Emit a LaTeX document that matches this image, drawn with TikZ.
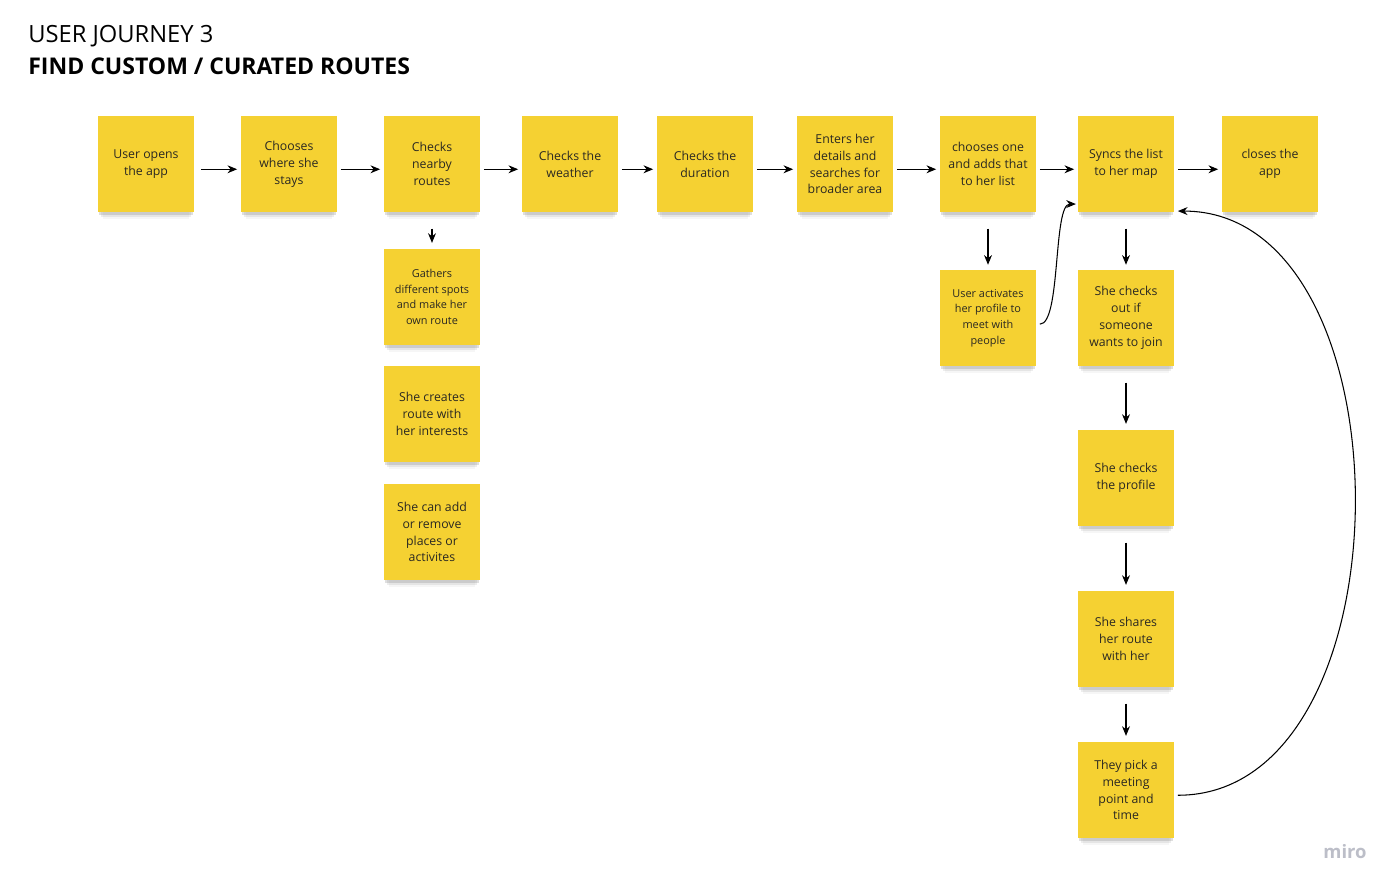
\documentclass[tikz,border=0pt]{standalone}
\usepackage{fontspec}
\setmainfont{Open Sans}
\usetikzlibrary{arrows.meta,shadows}
\definecolor{stickyyellow}{RGB}{245,209,50}
\definecolor{inkgray}{RGB}{42,40,34}
\definecolor{mirogray}{RGB}{188,190,200}
\begin{document}
\begin{tikzpicture}[x=0.02cm,y=-0.02cm,
	sticky/.style={fill=stickyyellow,minimum width=1.92cm,minimum height=1.94cm,
		align=center,font=\fontsize{7}{9.6}\selectfont,text=inkgray,inner sep=0pt,
		drop shadow={shadow xshift=0pt,shadow yshift=-2.5pt,opacity=.25,shadow scale=.97},
		drop shadow={shadow xshift=0pt,shadow yshift=-5pt,opacity=.14,shadow scale=.93},
		drop shadow={shadow xshift=0pt,shadow yshift=-7pt,opacity=.07,shadow scale=.90}},
	small/.style={font=\fontsize{6.2}{8.9}\selectfont},
	flow/.style={-{Stealth[length=5.5pt,width=4.5pt]},semithick,black}]
	\useasboundingbox[fill=white] (0,0) rectangle (1400,891);

	\node[anchor=base west,inner sep=0pt,font=\fontsize{13.5}{15}\selectfont] (title) at (28,43) {USER JOURNEY 3};
	\node[anchor=base west,inner sep=0pt,font=\fontsize{13.1}{15}\selectfont\bfseries] (subtitle) at (28,75) {FIND CUSTOM / CURATED ROUTES};

	% main row
	\node[sticky] (open) at (146,164) {User opens\\the app};
	\node[sticky] (stay) at (289,164) {Chooses\\where she\\stays};
	\node[sticky] (nearby) at (432,164) {Checks\\nearby\\routes};
	\node[sticky] (weather) at (570,164) {Checks the\\weather};
	\node[sticky] (duration) at (705,164) {Checks the\\duration};
	\node[sticky] (details) at (845,164) {Enters her\\details and\\searches for\\broader area};
	\node[sticky] (list) at (988,164) {chooses one\\and adds that\\to her list};
	\node[sticky] (sync) at (1126,164) {Syncs the list\\to her map};
	\node[sticky] (close) at (1270,164) {closes the\\app};

	% own route
	\node[sticky,small] (gather) at (432,297) {Gathers\\different spots\\and make her\\own route};
	\node[sticky] (create) at (432,414) {She creates\\route with\\her interests};
	\node[sticky] (edit) at (432,532) {She can add\\or remove\\places or\\activites};

	% meet people
	\node[sticky,small] (profile) at (988,318) {User activates\\her profile to\\meet with\\people};
	\node[sticky] (join) at (1126,318) {She checks\\out if\\someone\\wants to join};
	\node[sticky] (check) at (1126,478) {She checks\\the profile};
	\node[sticky] (share) at (1126,639) {She shares\\her route\\with her};
	\node[sticky] (pick) at (1126,790) {They pick a\\meeting\\point and\\time};

	\node[anchor=base east,inner sep=0pt,text=mirogray,font=\fontsize{10.5}{12}\selectfont\bfseries] (miro) at (1367,858) {miro};

	\draw[flow,shorten <=4pt,shorten >=2pt] ([yshift=-3pt]open.east) -- ([yshift=-3pt]stay.west);
	\draw[flow,shorten <=2pt,shorten >=2pt] ([yshift=-3pt]stay.east) -- ([yshift=-3pt]nearby.west);
	\draw[flow,shorten <=2pt,shorten >=2pt] ([yshift=-3pt]nearby.east) -- ([yshift=-3pt]weather.west);
	\draw[flow,shorten <=2pt,shorten >=2pt] ([yshift=-3pt]weather.east) -- ([yshift=-3pt]duration.west);
	\draw[flow,shorten <=2pt,shorten >=2pt] ([yshift=-3pt]duration.east) -- ([yshift=-3pt]details.west);
	\draw[flow,shorten <=2pt,shorten >=2pt] ([yshift=-3pt]details.east) -- ([yshift=-3pt]list.west);
	\draw[flow,shorten <=2pt,shorten >=2pt] ([yshift=-3pt]list.east) -- ([yshift=-3pt]sync.west);
	\draw[flow,shorten <=2pt,shorten >=2pt] ([yshift=-3pt]sync.east) -- ([yshift=-3pt]close.west);

	\draw[flow,shorten <=9pt,shorten >=3pt] (nearby) -- (gather);
	\draw[flow,shorten <=9pt,shorten >=2.5pt] (list) -- (profile);
	\draw[flow,shorten <=9pt,shorten >=2.5pt] (sync) -- (join);
	\draw[flow,shorten <=9pt,shorten >=3pt] (join) -- (check);
	\draw[flow,shorten <=9pt,shorten >=3pt] (check) -- (share);
	\draw[flow,shorten <=9pt,shorten >=3pt] (share) -- (pick);

	\draw[flow,shorten <=2pt,shorten >=1pt] ([yshift=-3.5pt]profile.east) to[out=0,in=180,looseness=.5] ([yshift=5pt]sync.south west);
	\draw[flow,shorten <=2pt,shorten >=2pt] ([yshift=-3pt]pick.east) to[out=0,in=0,looseness=1.05] ([yshift=1pt]sync.south east);
\end{tikzpicture}
\end{document}
